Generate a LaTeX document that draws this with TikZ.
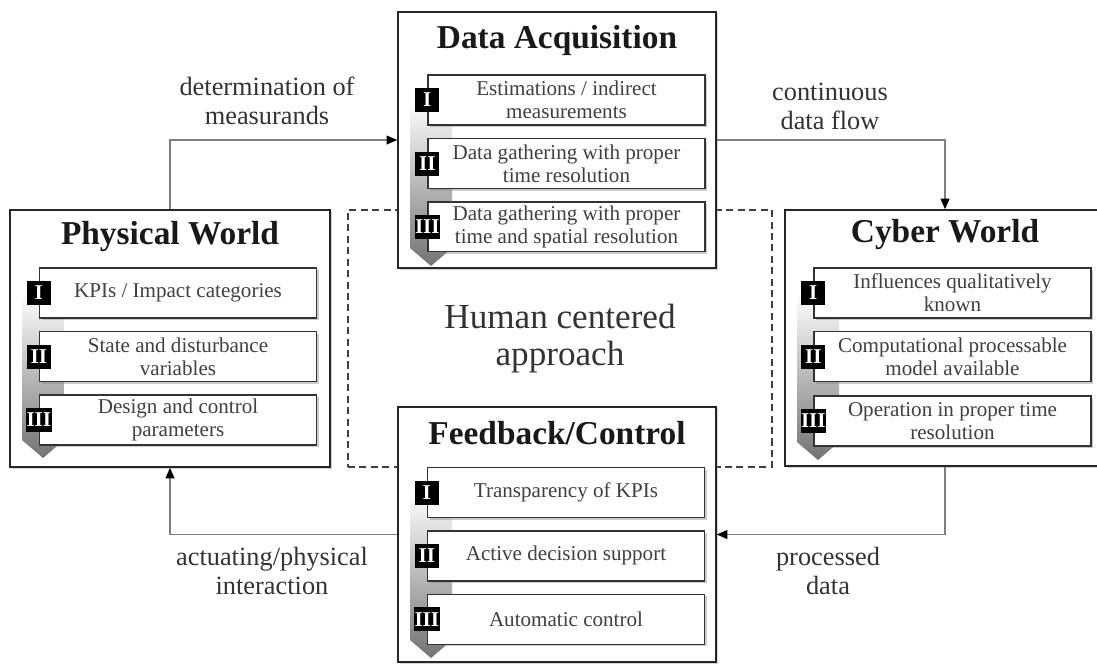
\documentclass[tikz,border=0pt]{standalone}
\usepackage{fontspec}
\setmainfont{Liberation Serif}
\usetikzlibrary{positioning,shadows,arrows.meta}

\tikzset{
  mainbox/.style={draw=black!85, line width=0.9pt, fill=white,
    drop shadow={shadow xshift=1.3pt, shadow yshift=-1.3pt, opacity=.35}},
  boxtitle/.style={font=\fontsize{19}{21}\selectfont\bfseries, text=black!90},
  itembox/.style={draw=black!80, line width=0.8pt, fill=white, minimum width=5.54cm,
    minimum height=1cm, inner sep=1pt, align=center, text=black!75,
    font=\fontsize{12}{13}\selectfont,
    drop shadow={shadow xshift=1.2pt, shadow yshift=-1.2pt, opacity=.4}},
  numbox/.style={fill=black, draw=black, text=white, minimum width=0.46cm,
    minimum height=0.46cm, inner sep=0pt, font=\fontsize{12}{12}\selectfont\bfseries},
  levelarrow/.style={top color=white, bottom color=black!55},
  flow/.style={draw=black!50, line width=0.8pt, -{Triangle[length=6pt,width=5pt,color=black]}},
  flowlabel/.style={align=center, font=\fontsize{15}{16.5}\selectfont, text=black!80},
}

\begin{document}
\begin{tikzpicture}[x=0.02cm, y=-0.02cm]
  \useasboundingbox (0,0) rectangle (1097,664);

  % Human centered frame in the middle
  \node[draw=black!75, dashed, dash pattern=on 4pt off 2.5pt, line width=0.9pt,
    minimum width=8.48cm, minimum height=5.14cm, align=center, text=black!80,
    font=\fontsize{20}{21}\selectfont] (hca) at (560,338.5) {Human centered\\approach};

  % The four outer boxes
  \node[mainbox, minimum width=6.36cm, minimum height=5.12cm] (da) at (557,140) {};
  \node[mainbox, minimum width=6.4cm, minimum height=5.14cm] (pw) at (170,338.5) {};
  \node[mainbox, minimum width=6.4cm, minimum height=5.12cm] (cw) at (945,338) {};
  \node[mainbox, minimum width=6.36cm, minimum height=5.1cm] (fc) at (557,534.5) {};

  \node[boxtitle] (datitle) at (557,40) {Data Acquisition};
  \node[boxtitle] (pwtitle) at (170,237) {Physical World};
  \node[boxtitle] (cwtitle) at (945,235) {Cyber World};
  \node[boxtitle] (fctitle) at (557,433) {Feedback/Control};

  % Level arrows behind the items
  \shade[levelarrow] (410,100) -- (452,100) -- (452,248) -- (431,266) -- (410,248) -- cycle;
  \shade[levelarrow] (22,293) -- (64,293) -- (64,440) -- (43,458) -- (22,440) -- cycle;
  \shade[levelarrow] (797,293) -- (839,293) -- (839,442) -- (818,460) -- (797,442) -- cycle;
  \shade[levelarrow] (410,492) -- (452,492) -- (452,640) -- (431,658) -- (410,640) -- cycle;

  % Data Acquisition
  \node[itembox] (da1) at (566.5,100) {Estimations / indirect\\measurements};
  \node[itembox, below=0.24cm of da1] (da2) {Data gathering with proper\\time resolution};
  \node[itembox, below=0.24cm of da2] (da3) {Data gathering with proper\\time and spatial resolution};

  % Physical World
  \node[itembox] (pw1) at (178,293) {KPIs / Impact categories};
  \node[itembox, below=0.24cm of pw1] (pw2) {State and disturbance\\variables};
  \node[itembox, below=0.24cm of pw2] (pw3) {Design and control\\parameters};

  % Cyber World
  \node[itembox] (cw1) at (952.5,293) {Influences qualitatively\\known};
  \node[itembox, below=0.24cm of cw1] (cw2) {Computational processable\\model available};
  \node[itembox, below=0.26cm of cw2] (cw3) {Operation in proper time\\resolution};

  % Feedback/Control
  \node[itembox] (fc1) at (566,492.5) {Transparency of KPIs};
  \node[itembox, below=0.24cm of fc1] (fc2) {Active decision support};
  \node[itembox, below=0.24cm of fc2] (fc3) {Automatic control};

  % Level numbers
  \node[numbox] (da1n) at (da1.west) {I};
  \node[numbox] (da2n) at (da2.west) {II};
  \node[numbox] (da3n) at (da3.west) {III};
  \node[numbox] (pw1n) at (pw1.west) {I};
  \node[numbox] (pw2n) at (pw2.west) {II};
  \node[numbox] (pw3n) at (pw3.west) {III};
  \node[numbox] (cw1n) at (cw1.west) {I};
  \node[numbox] (cw2n) at (cw2.west) {II};
  \node[numbox] (cw3n) at (cw3.west) {III};
  \node[numbox] (fc1n) at (fc1.west) {I};
  \node[numbox] (fc2n) at (fc2.west) {II};
  \node[numbox] (fc3n) at (fc3.west) {III};

  % Loop
  \draw[flow] (pw.north) |- (da.west);
  \draw[flow] (da.east) -| (cw.north);
  \draw[flow] (cw.south) |- (fc.east);
  \draw[flow] (fc.west) -| (pw.south);

  \node[flowlabel] (lblmeas) at (267,101) {determination of\\measurands};
  \node[flowlabel] (lblflow) at (830,106) {continuous\\data flow};
  \node[flowlabel] (lblproc) at (828,571) {processed\\data};
  \node[flowlabel] (lblact) at (272,571) {actuating/physical\\interaction};
\end{tikzpicture}
\end{document}
